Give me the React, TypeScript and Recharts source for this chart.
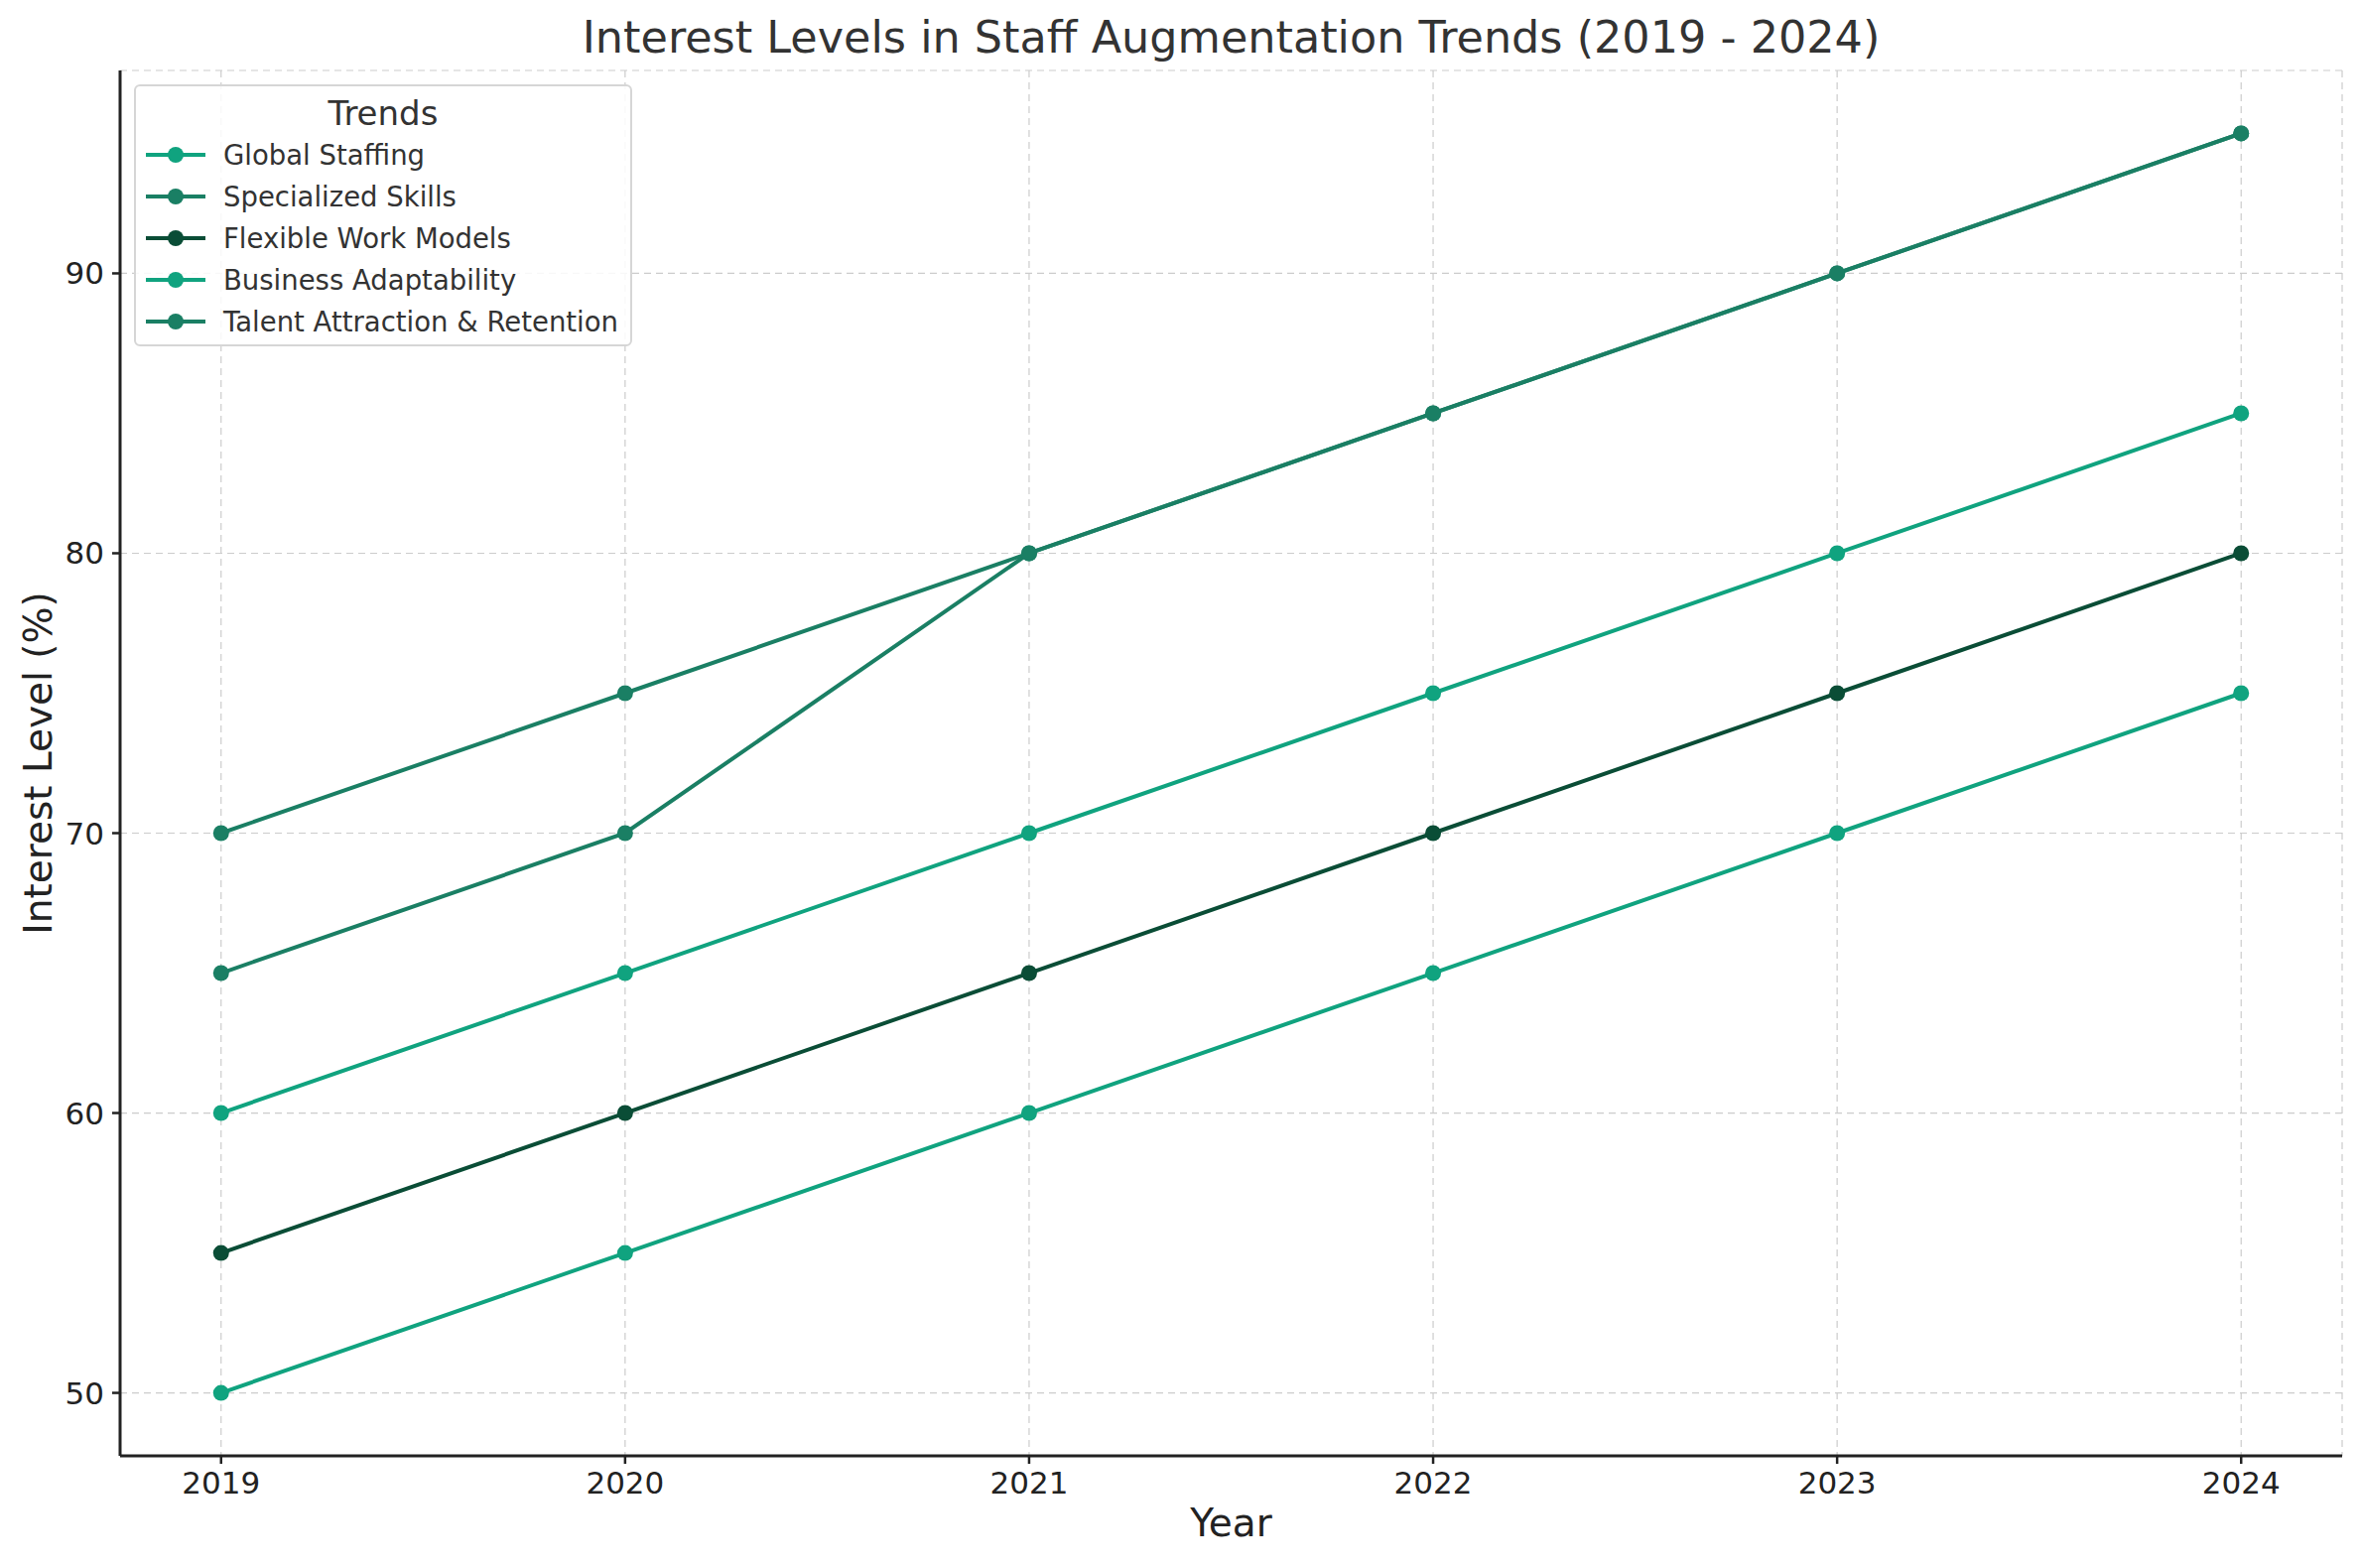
import { LineChart, Line, XAxis, YAxis, CartesianGrid } from 'recharts';

const years = [2019, 2020, 2021, 2022, 2023, 2024];
const globalStaffing = [60, 65, 70, 75, 80, 85];
const specializedSkills = [70, 75, 80, 85, 90, 95];
const flexibleWork = [55, 60, 65, 70, 75, 80];
const businessAdaptability = [50, 55, 60, 65, 70, 75];
const talentRetention = [65, 70, 80, 85, 90, 95];
const yTicks = [50, 60, 70, 80, 90];

const LIGHT = '#10a37f';
const MID = '#1a7f64';
const DARK = '#0a4d36';

const series = [
  { key: 'global', name: 'Global Staffing', values: globalStaffing, color: LIGHT },
  { key: 'skills', name: 'Specialized Skills', values: specializedSkills, color: MID },
  { key: 'flex', name: 'Flexible Work Models', values: flexibleWork, color: DARK },
  { key: 'adapt', name: 'Business Adaptability', values: businessAdaptability, color: LIGHT },
  { key: 'talent', name: 'Talent Attraction & Retention', values: talentRetention, color: MID },
];

const data = years.map((year, i) => {
  const row: Record<string, number> = { year };
  series.forEach((s) => {
    row[s.key] = s.values[i];
  });
  return row;
});

const FONT = '"DejaVu Sans", sans-serif';
const W = 2379;
const H = 1580;

const Legend = () => (
  <div
    style={{
      position: 'absolute',
      left: 135,
      top: 85,
      width: 498,
      height: 260,
      border: '2.5px solid #d6d6d6',
      borderRadius: 6,
      background: 'rgba(255,255,255,0.85)',
      fontFamily: FONT,
      color: '#333',
    }}
  >
    <div style={{ textAlign: 'center', fontSize: 34, marginTop: 6, lineHeight: '42px' }}>Trends</div>
    {series.map((s) => (
      <div key={s.key} style={{ display: 'flex', alignItems: 'center', height: 42 }}>
        <svg width={80} height={20} style={{ marginLeft: 8 }}>
          <line x1={2} y1={10} x2={62} y2={10} stroke={s.color} strokeWidth={4} />
          <circle cx={32} cy={10} r={8} fill={s.color} />
        </svg>
        <span style={{ fontSize: 27.5 }}>{s.name}</span>
      </div>
    ))}
  </div>
);

export default function App() {
  return (
    <div style={{ position: 'absolute', left: 0, top: 0, width: W, height: H, background: '#fff' }}>
      <div
        style={{
          position: 'absolute',
          left: 121,
          width: 2239,
          top: 12,
          textAlign: 'center',
          whiteSpace: 'nowrap',
          fontFamily: FONT,
          fontSize: 44.5,
          color: '#333',
        }}
      >
        Interest Levels in Staff Augmentation Trends (2019 - 2024)
      </div>
      <LineChart
        width={W}
        height={H}
        data={data}
        margin={{ top: 71, right: 19, left: 21, bottom: 53 }}
      >
        <CartesianGrid stroke="#cccccc" strokeWidth={1.2} strokeDasharray="7 5" />
        <XAxis
          dataKey="year"
          type="number"
          domain={[2018.75, 2024.25]}
          ticks={years}
          height={60}
          tickSize={8}
          tickMargin={8}
          allowDataOverflow
          axisLine={{ stroke: '#222', strokeWidth: 3 }}
          tickLine={{ stroke: '#222', strokeWidth: 2.5 }}
          tick={{ fill: '#222', fontSize: 31, fontFamily: FONT }}
        />
        <YAxis
          type="number"
          domain={[47.75, 97.25]}
          ticks={yTicks}
          width={100}
          tickSize={8}
          tickMargin={8}
          allowDataOverflow
          axisLine={{ stroke: '#222', strokeWidth: 3 }}
          tickLine={{ stroke: '#222', strokeWidth: 2.5 }}
          tick={{ fill: '#222', fontSize: 31, fontFamily: FONT }}
        />
        {series.map((s) => (
          <Line
            key={s.key}
            dataKey={s.key}
            name={s.name}
            type="linear"
            stroke={s.color}
            strokeWidth={4}
            dot={{ r: 8, fill: s.color, stroke: s.color, strokeWidth: 0 }}
            activeDot={false}
            isAnimationActive={false}
          />
        ))}
      </LineChart>
      <div
        style={{
          position: 'absolute',
          left: 121,
          width: 2239,
          top: 1512,
          textAlign: 'center',
          fontFamily: FONT,
          fontSize: 39,
          color: '#222',
        }}
      >
        Year
      </div>
      <div
        style={{
          position: 'absolute',
          left: 38,
          top: 769,
          transform: 'translate(-50%, -50%) rotate(-90deg)',
          whiteSpace: 'nowrap',
          fontFamily: FONT,
          fontSize: 39,
          color: '#222',
        }}
      >
        Interest Level (%)
      </div>
      <Legend />
    </div>
  );
}
